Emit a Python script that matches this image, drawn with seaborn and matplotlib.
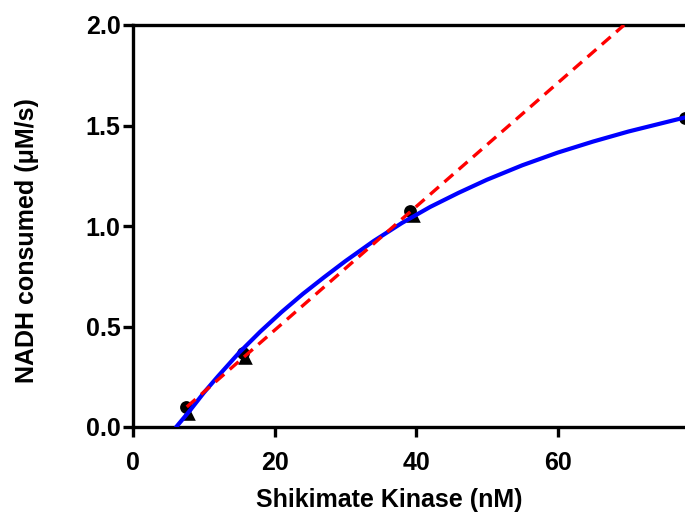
import matplotlib
matplotlib.use("Agg")
import matplotlib.pyplot as plt
import seaborn as sns
import pandas as pd

# Data
circle_x = [7.5, 15.5, 39.2, 78.0]
circle_y = [0.098, 0.370, 1.077, 1.537]
triangle_x = [7.8, 15.8, 39.5]
triangle_y = [0.072, 0.350, 1.057]

curve_x = [6.1, 8, 10, 12, 15, 18, 21, 24, 27, 30, 34, 38, 42, 46, 50, 55, 60, 65, 70, 74, 78]
curve_y = [0.0, 0.080, 0.170, 0.252, 0.370, 0.475, 0.572, 0.662, 0.745, 0.825, 0.925,
           1.015, 1.095, 1.165, 1.230, 1.302, 1.365, 1.420, 1.470, 1.505, 1.540]

linear_x = [7.6, 69.4]
linear_y = [0.10, 2.0]

x_ticks = [0, 20, 40, 60]
y_ticks = [0.0, 0.5, 1.0, 1.5, 2.0]
y_tick_labels = ["0.0", "0.5", "1.0", "1.5", "2.0"]

sns.set_style("ticks")
plt.rcParams["font.family"] = ["Liberation Sans", "DejaVu Sans"]
plt.rcParams["font.weight"] = "bold"
plt.rcParams["text.color"] = "black"
plt.rcParams["axes.labelcolor"] = "black"

fig = plt.figure(figsize=(6.85, 5.16), dpi=100)
ax = fig.add_axes([133 / 685, (516 - 427) / 516, 1 - 133 / 685, (427 - 25) / 516])

curve_df = pd.DataFrame({"x": curve_x, "y": curve_y})
lin_df = pd.DataFrame({"x": linear_x, "y": linear_y})

sns.lineplot(data=curve_df, x="x", y="y", ax=ax, color="#0000ff", linewidth=3.0,
             sort=False, zorder=3)
sns.lineplot(data=lin_df, x="x", y="y", ax=ax, color="#ff0000", linewidth=2.4,
             sort=False, zorder=4, dashes=False)
ax.lines[-1].set_dashes([3.5, 2.2])

ax.scatter(triangle_x, triangle_y, marker="^", s=110, color="black", zorder=2, linewidths=0)
ax.scatter(circle_x, circle_y, marker="o", s=85, color="black", zorder=2, linewidths=0)

ax.set_xlim(0, 78)
ax.set_ylim(0, 2.0)
ax.set_xticks(x_ticks)
ax.set_yticks(y_ticks)
ax.set_yticklabels(y_tick_labels)

for side in ["left", "bottom", "top"]:
    ax.spines[side].set_linewidth(2.4)
    ax.spines[side].set_color("black")
ax.spines["right"].set_visible(False)

ax.tick_params(axis="both", direction="out", length=7, width=2.4, colors="black",
               labelsize=18)
ax.tick_params(axis="y", pad=2)
ax.tick_params(axis="x", pad=10)
for lab in ax.get_xticklabels() + ax.get_yticklabels():
    lab.set_fontweight("bold")

ax.set_xlabel("Shikimate Kinase (nM)", fontsize=18, fontweight="bold", color="black")
ax.set_ylabel("NADH consumed (\u03bcM/s)", fontsize=18, fontweight="bold", color="black")
ax.xaxis.set_label_coords(0.465, -0.152)
ax.yaxis.set_label_coords(-0.170, 0.465)

fig.savefig("out.png", dpi=100)
